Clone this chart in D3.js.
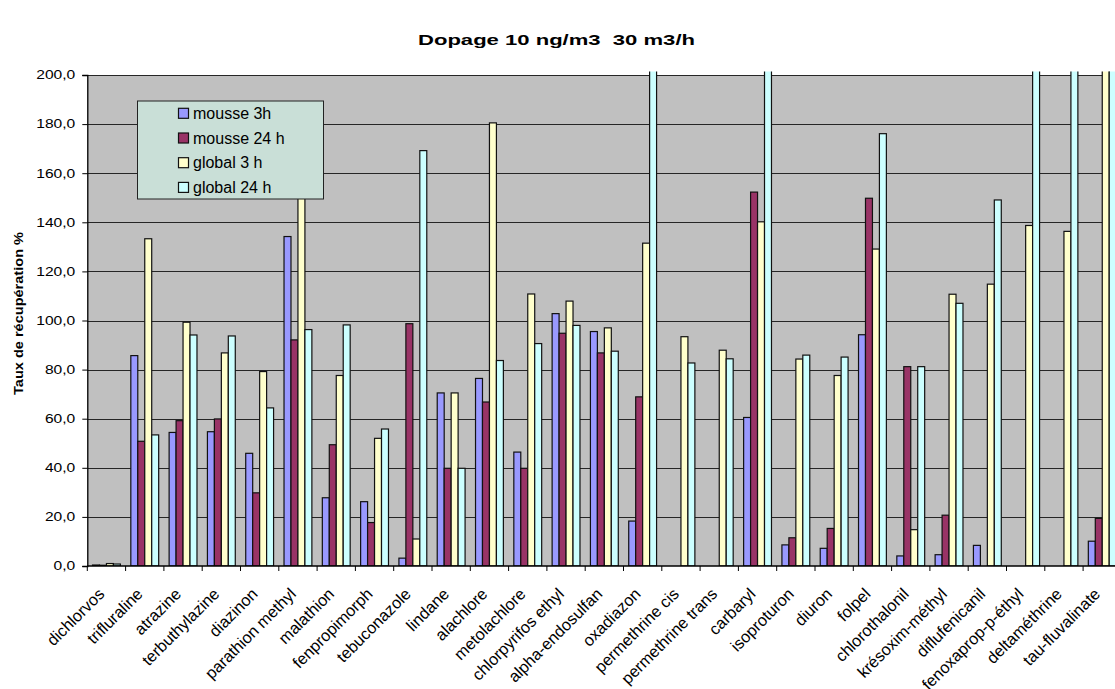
<!DOCTYPE html>
<html>
<head>
<meta charset="utf-8">
<script src="https://cdn.jsdelivr.net/npm/d3@7/dist/d3.min.js"></script>
<style>
  html, body { margin: 0; padding: 0; background: #fff; }
  svg { display: block; }
</style>
</head>
<body>
<svg id="chart" width="1115" height="689" font-family="'Liberation Sans', Arial, sans-serif"></svg>
<script>
// Pesticide names (x categories)
const categories = [
  "dichlorvos", "trifluraline", "atrazine", "terbuthylazine", "diazinon",
  "parathion methyl", "malathion", "fenpropimorph", "tebuconazole", "lindane",
  "alachlore", "metolachlore", "chlorpyrifos ethyl", "alpha-endosulfan", "oxadiazon",
  "permethrine cis", "permethrine trans", "carbaryl", "isoproturon", "diuron",
  "folpel", "chlorothalonil", "krésoxim-méthyl", "diflufenicanil", "fenoxaprop-p-éthyl",
  "deltaméthrine", "tau-fluvalinate"
];

// Series names
const seriesNames = ["mousse 3h", "mousse 24 h", "global 3 h", "global 24 h"];

// Recovery rates (%) per series, one value per category (null = not measured)
const mousse3h = [
  0.4, 85.7, 54.4, 54.7, 45.9, 134.2, 27.8, 26.2, 3.2, 70.5,
  76.4, 46.4, 102.8, 95.5, 18.3, null, null, 60.5, 8.6, 7.2,
  94.2, 4.1, 4.6, 8.4, null, null, 10.1
];
const mousse24h = [
  0.3, 50.8, 59.2, 59.9, 29.8, 92.1, 49.4, 17.7, 98.7, 39.8,
  66.8, 39.8, 94.8, 86.8, 68.9, null, null, 152.3, 11.5, 15.3,
  149.8, 81.2, 20.7, null, null, null, 19.4
];
const global3h = [
  1.0, 133.3, 99.3, 86.8, 79.2, 168.0, 77.6, 52.0, 11.0, 70.5,
  180.5, 110.8, 107.9, 97.0, 131.5, 93.4, 87.9, 140.2, 84.3, 77.6,
  129.1, 14.8, 110.7, 114.8, 138.7, 136.3, 245.0
];
const global24h = [
  0.8, 53.4, 94.1, 93.7, 64.4, 96.3, 98.2, 55.8, 169.2, 39.8,
  83.7, 90.6, 98.0, 87.5, 238.0, 82.7, 84.4, 262.0, 85.9, 85.1,
  176.1, 81.2, 107.0, 149.1, 251.0, 233.0, 270.0
];

// Y axis ticks
const yTicks = [0, 20, 40, 60, 80, 100, 120, 140, 160, 180, 200];

const seriesValues = [mousse3h, mousse24h, global3h, global24h];
const seriesColors = ["#9999ff", "#993366", "#ffffcc", "#ccffff"];

const svg = d3.select("#chart");

const plot = { left: 87.3, top: 75, bottom: 566, band: 38.3 };
plot.right = plot.left + plot.band * categories.length;

const x = d3.scaleBand()
  .domain(categories)
  .range([plot.left, plot.right])
  .paddingInner(0)
  .paddingOuter(0);

const xSub = d3.scaleBand()
  .domain(seriesNames)
  .range([0, x.bandwidth()])
  .paddingInner(0)
  .paddingOuter(0.75);

const y = d3.scaleLinear()
  .domain([0, 200])
  .range([plot.bottom, plot.top]);

// Plot area background
svg.append("rect")
  .attr("x", plot.left)
  .attr("y", plot.top)
  .attr("width", plot.right - plot.left)
  .attr("height", plot.bottom - plot.top)
  .attr("fill", "#c0c0c0");

// Horizontal gridlines
svg.append("g")
  .selectAll("line")
  .data(yTicks.filter(d => d > 0))
  .join("line")
  .attr("x1", plot.left)
  .attr("x2", plot.right)
  .attr("y1", d => Math.round(y(d)) + 0.5)
  .attr("y2", d => Math.round(y(d)) + 0.5)
  .attr("stroke", "#262626")
  .attr("stroke-width", 1);

// Bars may overflow the top a little, as in the spreadsheet rendering
svg.append("defs").append("clipPath")
  .attr("id", "plotClip")
  .append("rect")
  .attr("x", plot.left)
  .attr("y", plot.top - 3.5)
  .attr("width", plot.right - plot.left)
  .attr("height", plot.bottom - plot.top + 3.5);

const rows = [];
categories.forEach((c, i) => {
  seriesNames.forEach((s, j) => {
    const v = seriesValues[j][i];
    if (v !== null) rows.push({ cat: c, series: s, value: v, color: seriesColors[j] });
  });
});

svg.append("g")
  .attr("clip-path", "url(#plotClip)")
  .selectAll("rect")
  .data(rows)
  .join("rect")
  .attr("x", d => x(d.cat) + xSub(d.series))
  .attr("y", d => y(d.value))
  .attr("width", xSub.bandwidth())
  .attr("height", d => y(0) - y(d.value))
  .attr("fill", d => d.color)
  .attr("stroke", "#111")
  .attr("stroke-width", 1.2);

// Y axis
const yAxis = d3.axisLeft(y)
  .tickValues(yTicks)
  .tickSize(5)
  .tickPadding(4)
  .tickFormat(d => d3.format(".1f")(d).replace(".", ","));

const gy = svg.append("g")
  .attr("transform", `translate(${plot.left},0)`)
  .call(yAxis);
gy.select(".domain").attr("stroke", "#000").attr("stroke-width", 1.3);
gy.selectAll(".tick line").attr("stroke", "#000");
gy.selectAll(".tick text")
  .attr("fill", "#000")
  .attr("font-size", 12)
  .attr("x", 0)
  .attr("text-anchor", "end")
  .attr("transform", "translate(-12,0) scale(1.3,1)");

// X axis: ticks at category boundaries
const gx = svg.append("g")
  .attr("transform", `translate(0,${plot.bottom})`);
gx.append("line")
  .attr("x1", plot.left).attr("x2", plot.right)
  .attr("y1", 0).attr("y2", 0)
  .attr("stroke", "#000").attr("stroke-width", 1.3);
gx.selectAll("line.tick")
  .data(d3.range(categories.length + 1))
  .join("line")
  .attr("class", "tick")
  .attr("x1", i => plot.left + i * x.step())
  .attr("x2", i => plot.left + i * x.step())
  .attr("y1", 0).attr("y2", 5)
  .attr("stroke", "#000");

gx.selectAll("text")
  .data(categories)
  .join("text")
  .attr("transform", d => `translate(${x(d) + x.bandwidth() / 2 - 1},${29}) rotate(-45)`)
  .attr("text-anchor", "end")
  .attr("font-size", 16.3)
  .attr("fill", "#000")
  .text(d => d);

// Title
svg.append("text")
  .attr("x", 418)
  .attr("y", 45)
  .attr("font-weight", "bold")
  .attr("font-size", 14)
  .attr("textLength", 277)
  .attr("lengthAdjust", "spacingAndGlyphs")
  .style("white-space", "pre")
  .text("Dopage 10 ng/m3  30 m3/h");

// Y axis title
svg.append("text")
  .attr("transform", "translate(23,395) rotate(-90)")
  .attr("font-weight", "bold")
  .attr("font-size", 13)
  .attr("textLength", 163)
  .attr("lengthAdjust", "spacingAndGlyphs")
  .text("Taux de récupération %");

// Legend
const legend = svg.append("g").attr("transform", "translate(137.5,101)");
legend.append("rect")
  .attr("width", 186)
  .attr("height", 98)
  .attr("fill", "#c9dfd7")
  .attr("stroke", "#222")
  .attr("stroke-width", 1);
const items = legend.selectAll("g.item")
  .data(seriesNames)
  .join("g")
  .attr("class", "item")
  .attr("transform", (d, i) => `translate(41,${12.3 + i * 24.7})`);
items.append("rect")
  .attr("x", 0).attr("y", -5)
  .attr("width", 10).attr("height", 10)
  .attr("fill", (d, i) => seriesColors[i])
  .attr("stroke", "#111").attr("stroke-width", 1.2);
items.append("text")
  .attr("x", 14.5)
  .attr("y", 5.5)
  .attr("font-size", 16)
  .attr("fill", "#000")
  .text(d => d);
</script>
</body>
</html>
